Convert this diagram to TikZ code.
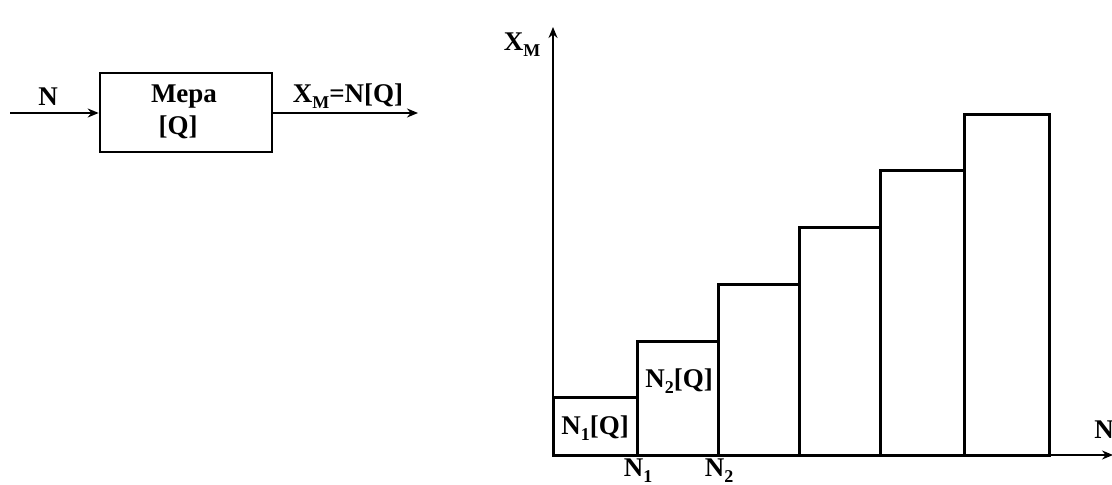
\documentclass[tikz,border=0pt]{standalone}
\usepackage{fontspec}
\setmainfont{Liberation Serif}
\usetikzlibrary{arrows.meta}
\newcommand\lowidx[1]{\raisebox{-0.22em}{\fontsize{9}{10}\selectfont #1}}
\tikzset{
  lbl/.style={font=\fontsize{13.5}{15}\selectfont\bfseries, inner sep=0pt},
  blockbox/.style={draw, line width=1.3pt, minimum width=86pt, minimum height=39.5pt, inner sep=0pt},
  sig/.style={line width=0.9pt, -{Stealth[length=5.5pt,width=4.5pt]}},
  axis/.style={line width=0.9pt, -{Stealth[length=5.5pt,width=4.5pt]}},
  bar/.style={line width=1.5pt},
}
\begin{document}
\begin{tikzpicture}[x=0.5pt,y=-0.5pt]
\useasboundingbox (0,0) rectangle (1112,485);
% block diagram
\node[blockbox] (blk) at (186,112.5) {};
\coordinate (in) at (10,113);
\coordinate (out) at (418,113);
\draw[sig] (in) -- (blk.west |- in);
\draw[sig] (blk.east |- out) -- (out);
\node[lbl] (nin) at (48,97) {N};
\node[lbl] (mera) at (184,97) {Мера};
\node[lbl] (q) at (178,127) {[Q]};
\node[lbl] (xout) at (348,96) {X\lowidx{М}=N[Q]};
% chart
\coordinate (O) at (553,455);
\coordinate (ytop) at (553,27);
\coordinate (xend) at (1113,455);
\foreach \xa/\xb/\t in {553/637/398, 637/718/342, 718/799/285, 799/880/228, 880/964/171, 964/1049/115}
  \draw[bar] (\xa,455) rectangle (\xb,\t);
\draw[axis] (O) -- (ytop);
\draw[axis] (O) -- (xend);
\draw[bar] (O) -- (1049,455);
\node[lbl] (yl) at (522,45) {X\lowidx{М}};
\node[lbl] (xl) at (1104,430) {N};
\node[lbl] (b1) at (595,428) {N\lowidx{1}[Q]};
\node[lbl] (b2) at (679,381) {N\lowidx{2}[Q]};
\node[lbl] (t1) at (638,471) {N\lowidx{1}};
\node[lbl] (t2) at (719,471) {N\lowidx{2}};
\end{tikzpicture}
\end{document}
